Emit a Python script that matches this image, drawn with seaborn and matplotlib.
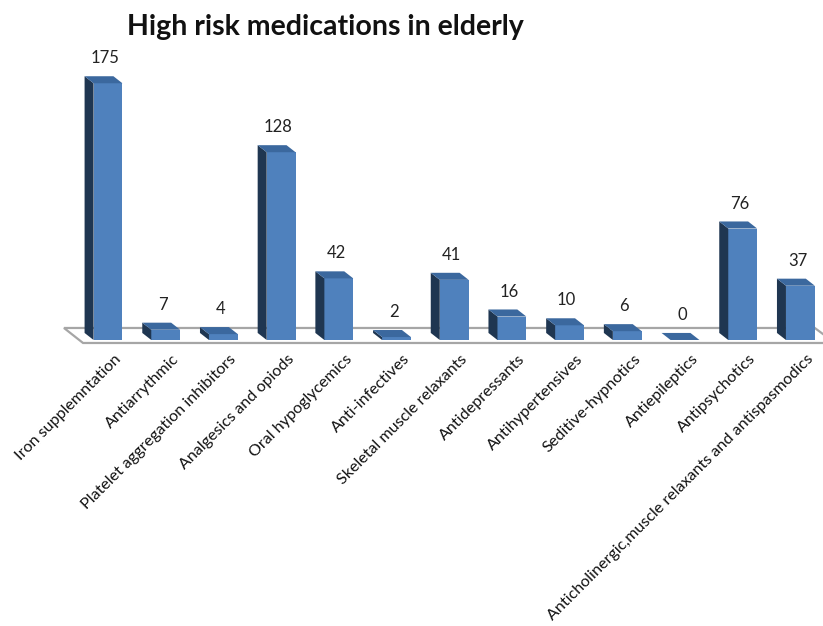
"""3D-style bar chart of high risk medications in elderly."""

import matplotlib
matplotlib.use("Agg")
import matplotlib.pyplot as plt
import matplotlib.transforms as mtransforms
import seaborn as sns
from matplotlib.patches import Polygon

categories = [
    "Iron supplemntation",
    "Antiarrythmic",
    "Platelet aggregation inhibitors",
    "Analgesics and opiods",
    "Oral hypoglycemics",
    "Anti-infectives",
    "Skeletal muscle relaxants",
    "Antidepressants",
    "Antihypertensives",
    "Seditive-hypnotics",
    "Antiepileptics",
    "Antipsychotics",
    "Anticholinergic,muscle relaxants and antispasmodics",
]
counts = [175, 7, 4, 128, 42, 2, 41, 16, 10, 6, 0, 76, 37]

FRONT = "#4F81BD"
SIDE = "#1F3651"
TOP = "#3B689E"

sns.set_style("white")
plt.rcParams["font.family"] = ["Lato", "DejaVu Sans"]

fig = plt.figure(figsize=(8.23, 6.26), dpi=100)
ax = fig.add_axes([0.0729, 0.4489, 0.9271, 0.4872])

bar_w = 0.5
sns.barplot(x=categories, y=counts, color=FRONT, saturation=1, width=bar_w,
            ax=ax, zorder=3)
for p in ax.patches:
    p.set_edgecolor("none")

ax.set_xlim(-0.832, 12.392)
ax.set_ylim(-3.41, 204.5)

# depth offset of the fake 3D boxes (data units)
dx, dy = -0.156, 4.8

# floor
floor = Polygon([(-0.763, 8.18), (12.25, 8.18), (12.6, -2.04), (-0.433, -2.04)],
                closed=True, facecolor="white", edgecolor="#A6A6A6",
                linewidth=1.6, zorder=1, clip_on=False)
ax.add_patch(floor)

for i, v in enumerate(counts):
    x0, x1 = i - bar_w / 2, i + bar_w / 2
    side = Polygon([(x0, 0), (x0 + dx, dy), (x0 + dx, v + dy), (x0, v)],
                   closed=True, facecolor=SIDE, edgecolor="none", zorder=3,
                   clip_on=False)
    top = Polygon([(x0, v), (x0 + dx, v + dy), (x1 + dx, v + dy), (x1, v)],
                  closed=True, facecolor=TOP, edgecolor="none", zorder=3,
                  clip_on=False)
    ax.add_patch(side)
    ax.add_patch(top)
    ax.annotate(str(v), (i - 0.05, v), xytext=(0, 18), textcoords="offset points",
                ha="center", va="center", fontsize=12, color="#222222")

ax.set_yticks([])
ax.tick_params(axis="x", length=0, pad=5)
shift = mtransforms.ScaledTranslation(6 / 100, 0, fig.dpi_scale_trans)
for lbl in ax.get_xticklabels():
    lbl.set_transform(lbl.get_transform() + shift)
plt.setp(ax.get_xticklabels(), rotation=45, ha="right", va="top",
         rotation_mode="anchor", fontsize=11.6, color="#111111")
ax.set_xlabel("")
ax.set_ylabel("")
sns.despine(ax=ax, left=True, bottom=True)

fig.text(325 / 823, 1 - 27 / 626, "High risk medications in elderly",
         ha="center", va="center", fontsize=20.5, fontweight="bold", color="#111111")

fig.savefig("out.png", dpi=100, facecolor="white")
